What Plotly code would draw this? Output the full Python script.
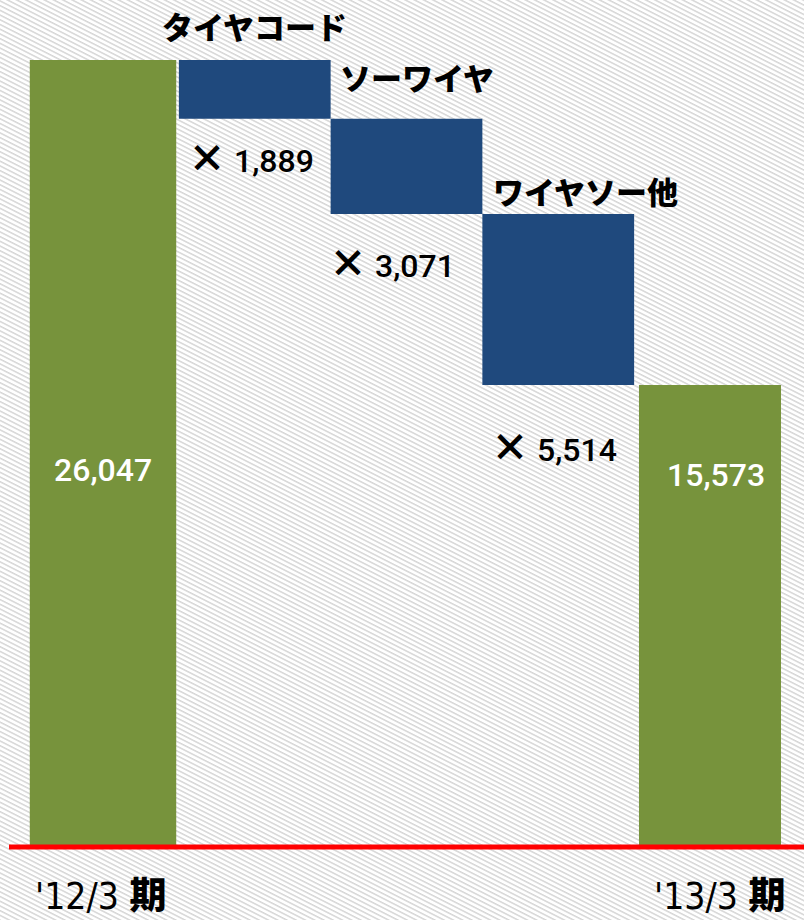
import base64
import plotly.graph_objects as go

# ---- data ----
categories = ["'12/3 期", "タイヤコード", "ソーワイヤ", "ワイヤソー他", "'13/3 期"]
measures = ["absolute", "relative", "relative", "relative", "total"]
values = [26047, -1889, -3071, -5514, 15573]
start_label = "26,047"
end_label = "15,573"
change_labels = ["× 1,889", "× 3,071", "× 5,514"]

GREEN = "#77933C"
BLUE = "#1F497D"
JP = "Noto Sans CJK JP"
NUM = "Roboto"
NARROW = "Liberation Sans Narrow, DejaVu Sans Condensed, Roboto"

fig = go.Figure()
fig.add_trace(go.Waterfall(
    x=categories,
    measure=measures,
    y=values,
    width=[0.965, 1.0, 1.0, 1.0, 0.936],
    totals=dict(marker=dict(color=GREEN, line=dict(width=0))),
    decreasing=dict(marker=dict(color=BLUE, line=dict(width=0))),
    increasing=dict(marker=dict(color=BLUE, line=dict(width=0))),
    connector=dict(visible=False),
    hoverinfo="skip",
    textinfo="none",
))

# cumulative levels
levels = []
acc = 0
for m, v in zip(measures, values):
    if m == "absolute":
        acc = v
    elif m == "relative":
        acc += v
    levels.append(acc)

annotations = []
# category labels above blue bars
cat_shift = [(0, 35), (10, 42), (27, 23)]
for i in range(1, 4):
    top = levels[i - 1]
    dx, dy = cat_shift[i - 1]
    annotations.append(dict(x=categories[i], y=top, text=categories[i], showarrow=False,
                            xshift=dx, yshift=dy, yanchor="middle",
                            font=dict(family=JP, size=31, color="#000000", weight=900)))
# change labels below blue bars
chg_shift = [(-4, -37), (-15, -47), (-4, -59)]
for i in range(1, 4):
    bottom = levels[i]
    dx, dy = chg_shift[i - 1]
    t = change_labels[i - 1]
    sym, num = t.split(" ", 1)
    txt = f"<span style='font-family:{JP};font-weight:900;font-size:38px'>{sym}</span> {num}"
    annotations.append(dict(x=categories[i], y=bottom, text=txt, showarrow=False,
                            xshift=dx, yshift=dy, yanchor="middle",
                            font=dict(family=NUM, size=32, color="#000000", weight=500)))
# values inside green bars
annotations.append(dict(x=categories[0], y=levels[0], text=start_label, showarrow=False,
                        yshift=-410, yanchor="middle",
                        font=dict(family=NUM, size=32, color="#ffffff", weight=500)))
annotations.append(dict(x=categories[4], y=levels[4], text=end_label, showarrow=False,
                        xshift=6, yshift=-90, yanchor="middle",
                        font=dict(family=NUM, size=32, color="#ffffff", weight=500)))
# period labels under axis
for i, dx in [(0, -3), (4, 10)]:
    lab = categories[i]
    body, kanji = lab.rsplit(" ", 1)
    txt = f"{body} <span style='font-family:{JP};font-weight:900'>{kanji}</span>"
    annotations.append(dict(x=categories[i], y=0, yref="paper", text=txt, showarrow=False,
                            xshift=dx, yshift=-48, yanchor="middle",
                            font=dict(family=NARROW, size=37, color="#000000")))

# striped background
svg = ('<svg xmlns="http://www.w3.org/2000/svg" width="804" height="920">'
       '<defs><pattern id="p" width="12" height="4.2" patternUnits="userSpaceOnUse" '
       'patternTransform="rotate(27)">'
       '<rect width="12" height="4.2" fill="#ffffff"/>'
       '<rect width="12" height="1.5" fill="#d6d6d6"/></pattern></defs>'
       '<rect width="804" height="920" fill="url(#p)"/></svg>')
src = "data:image/svg+xml;base64," + base64.b64encode(svg.encode()).decode()

fig.update_layout(
    width=804, height=920,
    margin=dict(l=0, r=0, t=0, b=75, pad=0),
    paper_bgcolor="#ffffff",
    plot_bgcolor="rgba(0,0,0,0)",
    showlegend=False,
    annotations=annotations,
    images=[dict(source=src, xref="paper", yref="paper", x=0, y=1,
                 sizex=1, sizey=920 / 845, xanchor="left", yanchor="top",
                 sizing="stretch", layer="below")],
    shapes=[dict(type="line", xref="paper", yref="paper", x0=9 / 804, x1=1,
                 y0=-2 / 845, y1=-2 / 845, line=dict(color="#ff0000", width=5))],
    xaxis=dict(type="category", range=[-0.6788, 4.6195], showgrid=False,
               showticklabels=False, zeroline=False, showline=False, fixedrange=True),
    yaxis=dict(range=[750, 27982], showgrid=False, showticklabels=False,
               zeroline=False, showline=False, fixedrange=True),
)

fig.write_html("out.html")
